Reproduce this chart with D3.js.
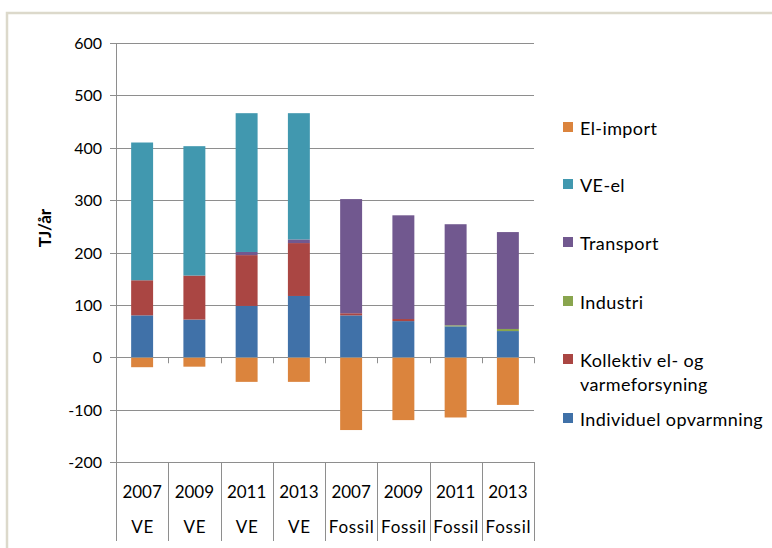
<!DOCTYPE html>
<html><head><meta charset="utf-8">
<script src="https://cdn.jsdelivr.net/npm/d3@7"></script>
<style>body{margin:0;background:#fff}svg{display:block}text{font-family:Lato,"Open Sans",sans-serif;fill:#000}</style>
</head><body><svg id="c" width="772" height="548"></svg>
<script>
const years = ["2007","2009","2011","2013","2007","2009","2011","2013"];
const groups = ["VE","VE","VE","VE","Fossil","Fossil","Fossil","Fossil"];
const seriesNames = ["Individuel opvarmning","Kollektiv el- og varmeforsyning","Industri","Transport","VE-el","El-import"];
const individuel = [80, 72, 98, 117, 80, 69, 59, 50];
const kollektiv  = [67, 84, 97, 101, 4, 4, 0, 0];
const industri   = [0, 0, 0, 0, 0, 0, 2, 4];
const transport  = [0, 0, 6, 7, 218, 198, 193, 185];
const veEl       = [263, 247, 265, 241, 0, 0, 0, 0];
const elImport   = [-19, -18, -47, -47, -139, -120, -115, -91];
const yTicks = [-200,-100,0,100,200,300,400,500,600];
const colors = ["#4071A8","#AA4643","#89A54E","#71588F","#4198AF","#DB843D"];

const svg = d3.select("#c");
// frame
svg.append("path").attr("d","M7,548V13H772").attr("fill","none").attr("stroke","#dcd9cb").attr("stroke-width",2.5);

const x = d3.scaleBand().domain(d3.range(8)).range([116,534]).paddingInner(0.58).paddingOuter(0.29);
const y = d3.scaleLinear().domain([-200,600]).range([462,43]);
const X0 = 116, X1 = 534;

// gridlines
svg.append("g").selectAll("line").data(yTicks).join("line")
  .attr("x1",110).attr("x2",X1).attr("y1",d=>Math.round(y(d))+0.5).attr("y2",d=>Math.round(y(d))+0.5)
  .attr("stroke","#8e8e8e").attr("stroke-width",1);
// y labels
svg.append("g").selectAll("text").data(yTicks).join("text")
  .attr("x",102).attr("y",d=>y(d)+6).attr("text-anchor","end").attr("font-size",16).text(d=>d);
svg.append("text").attr("transform","translate(51,228) rotate(-90)").attr("text-anchor","middle")
  .attr("font-size",17).attr("font-weight","bold").text("TJ/år");

// stacks
const posSeries = [individuel,kollektiv,industri,transport,veEl];
const data = d3.range(8).map(i=>{const o={i}; posSeries.forEach((s,k)=>o[k]=s[i]); return o;});
const stack = d3.stack().keys([0,1,2,3,4])(data);
stack.forEach((layer,k)=>{
  svg.append("g").attr("fill",colors[k]).selectAll("rect").data(layer).join("rect")
    .attr("x",d=>x(d.data.i)).attr("width",x.bandwidth())
    .attr("y",d=>y(d[1])).attr("height",d=>Math.max(0,y(d[0])-y(d[1])));
});
svg.append("g").attr("fill",colors[5]).selectAll("rect").data(elImport).join("rect")
  .attr("x",(d,i)=>x(i)).attr("width",x.bandwidth())
  .attr("y",y(0)).attr("height",d=>y(d)-y(0));

// zero axis + ticks
const bw = (X1-X0)/8;
const bounds = d3.range(9).map(i=>Math.round(X0+i*bw)+0.5);
svg.append("line").attr("x1",X0).attr("x2",X1).attr("y1",Math.round(y(0))+0.5).attr("y2",Math.round(y(0))+0.5).attr("stroke","#8e8e8e");
svg.append("g").selectAll("line").data(bounds.slice(1)).join("line")
  .attr("x1",d=>d).attr("x2",d=>d).attr("y1",y(0)).attr("y2",y(0)+6).attr("stroke","#8e8e8e");
// y axis line
svg.append("line").attr("x1",X0+0.5).attr("x2",X0+0.5).attr("y1",43).attr("y2",541).attr("stroke","#8e8e8e");
// table separators
svg.append("g").selectAll("line").data(bounds.slice(1)).join("line")
  .attr("x1",d=>d).attr("x2",d=>d).attr("y1",462).attr("y2",541).attr("stroke","#8e8e8e");
// category labels
svg.append("g").selectAll("text").data(years).join("text")
  .attr("x",(d,i)=>X0+(i+0.5)*bw).attr("y",498).attr("text-anchor","middle").attr("font-size",17).text(d=>d);
svg.append("g").selectAll("text").data(groups).join("text")
  .attr("x",(d,i)=>X0+(i+0.5)*bw+0.5).attr("y",533).attr("text-anchor","middle").attr("font-size",17)
  .attr("letter-spacing",0.7).text(d=>d);

// legend
const legendOrder = [5,4,3,2,1,0];
const legY = [127,184,242,301,359,418];
legendOrder.forEach((k,j)=>{
  const g = svg.append("g");
  g.append("rect").attr("x",563).attr("y",legY[j]-5).attr("width",10).attr("height",10).attr("fill",colors[k]);
  const t = (txt,dy)=>g.append("text").attr("x",580).attr("y",legY[j]+dy).attr("font-size",18)
      .attr("letter-spacing",0.4).text(txt);
  if(k===1){ t("Kollektiv el- og",8); t("varmeforsyning",32); }
  else t(seriesNames[k],8);
});
</script></body></html>
